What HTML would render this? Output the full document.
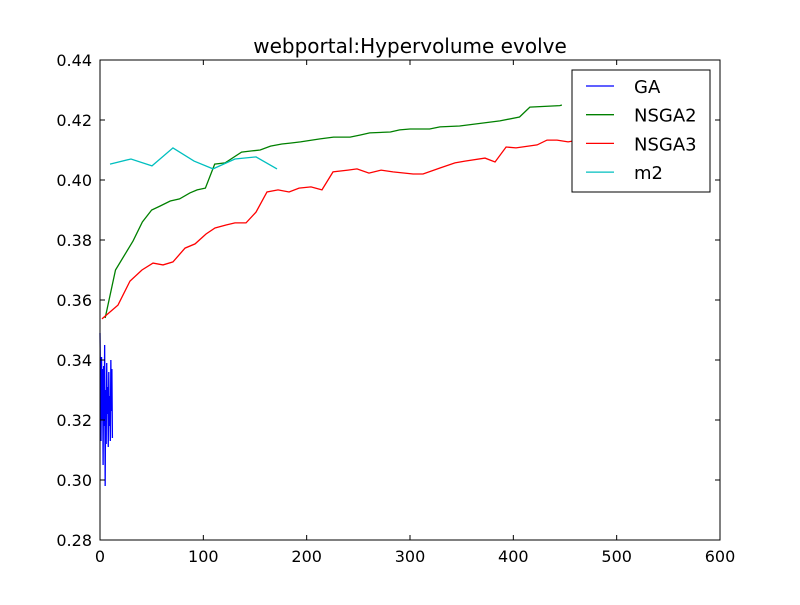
<!DOCTYPE html>
<html><head><meta charset="utf-8"><style>
body{margin:0;background:#fff;}
svg text{font-family:"DejaVu Sans","Liberation Sans",sans-serif;}
</style></head><body>
<svg id="chart" width="800" height="600" xmlns="http://www.w3.org/2000/svg">
<rect width="800" height="600" fill="#fff"/>
<text x="410" y="53" font-size="20" text-anchor="middle">webportal:Hypervolume evolve</text>
<g id="plot"></g>
</svg>
<script>
const xTicks=[0,100,200,300,400,500,600];
const yTicks=[0.28,0.30,0.32,0.34,0.36,0.38,0.40,0.42,0.44];
const yTickLabels=["0.28","0.30","0.32","0.34","0.36","0.38","0.40","0.42","0.44"];
const gaX=[0,1,1.5,2,2.5,3,3.5,4,4.5,5,5.5,6,6.5,7,7.5,8,8.5,9,9.5,10,10.5,11,11.5,12];
const gaY=[0.349,0.313,0.341,0.320,0.337,0.305,0.338,0.318,0.345,0.298,0.330,0.312,0.339,0.322,0.331,0.311,0.336,0.318,0.328,0.313,0.340,0.323,0.337,0.314];
const n2X=[5,15,25,32,41,50,58,68,77,87,94,102,111,121,137,147,155,165,176,184,194,205,213,226,242,252,261,281,290,300,319,329,348,387,406,416,445,447];
const n2Y=[0.354,0.370,0.3757,0.3797,0.386,0.390,0.3913,0.393,0.3937,0.3957,0.3967,0.3973,0.4053,0.4057,0.4093,0.4097,0.410,0.4113,0.412,0.4123,0.4127,0.4133,0.4137,0.4143,0.4143,0.415,0.4157,0.416,0.4167,0.417,0.417,0.4177,0.418,0.4197,0.421,0.4243,0.4248,0.425];
const n3X=[1.9,17.4,29,40.6,51.3,61,70.6,82.3,92,102.6,111.3,122,130.6,141.3,151,161.6,172.3,183,192.6,204.2,214.8,225.5,240,248.7,260.3,272,283.5,303,312.6,329,343.5,353.2,372.6,382.3,393,402.6,423,432.6,442.3,453,470];
const n3Y=[0.3537,0.3583,0.3663,0.370,0.3723,0.3717,0.3727,0.3773,0.3787,0.382,0.384,0.385,0.3857,0.3857,0.3893,0.396,0.3967,0.396,0.3973,0.3977,0.3967,0.4027,0.4033,0.4037,0.4023,0.4033,0.4027,0.402,0.402,0.404,0.4057,0.4063,0.4073,0.406,0.411,0.4107,0.4117,0.4133,0.4133,0.4127,0.4137];
const m2X=[9.7,30,50.3,70.6,91,109.4,130.6,151,171.3];
const m2Y=[0.4053,0.407,0.4047,0.4107,0.4063,0.4037,0.407,0.4077,0.4037];
const series=[["GA",gaX,gaY,"#0000ff"],["NSGA2",n2X,n2Y,"#008000"],["NSGA3",n3X,n3Y,"#ff0000"],["m2",m2X,m2Y,"#00bfbf"]];
const L=100,R=720,T=60,B=540;
const sx=v=>L+(v-0)/(600-0)*(R-L);
const sy=v=>B-(v-0.28)/(0.44-0.28)*(B-T);
const NS="http://www.w3.org/2000/svg";
const g=document.getElementById('plot');
function mk(t,a){const e=document.createElementNS(NS,t);for(const k in a)e.setAttribute(k,a[k]);g.appendChild(e);return e;}
series.forEach(s=>{
  const p=mk('polyline',{points:s[1].map((x,i)=>sx(x)+','+sy(s[2][i])).join(' '),fill:'none',stroke:s[3],'stroke-width':1.3});
  
  
});
const fr=mk('rect',{x:L,y:T,width:R-L,height:B-T,fill:'none',stroke:'#000','stroke-width':1});


xTicks.forEach(v=>{
  const x=sx(v);
  mk('line',{x1:x,y1:B,x2:x,y2:B-5,stroke:'#000'});
  mk('line',{x1:x,y1:T,x2:x,y2:T+5,stroke:'#000'});
  const t=mk('text',{x:x,y:B+22,'font-size':16,'text-anchor':'middle'});t.textContent=v;
  
  
});
yTicks.forEach((v,i)=>{
  const y=sy(v);
  mk('line',{x1:L,y1:y,x2:L+5,y2:y,stroke:'#000'});
  mk('line',{x1:R,y1:y,x2:R-5,y2:y,stroke:'#000'});
  const t=mk('text',{x:L-8,y:y+6,'font-size':16,'text-anchor':'end'});t.textContent=yTickLabels[i];
  
  
});
const lg=mk('rect',{x:572,y:70,width:138,height:122,fill:'#fff',stroke:'#000','stroke-width':1});


series.forEach((s,i)=>{
  const y=86+i*28.7;
  mk('line',{x1:586,y1:y,x2:614,y2:y,stroke:s[3],'stroke-width':1.3});
  const t=mk('text',{x:634,y:y+7,'font-size':18});t.textContent=s[0];
  
  
});
</script>
</body></html>
